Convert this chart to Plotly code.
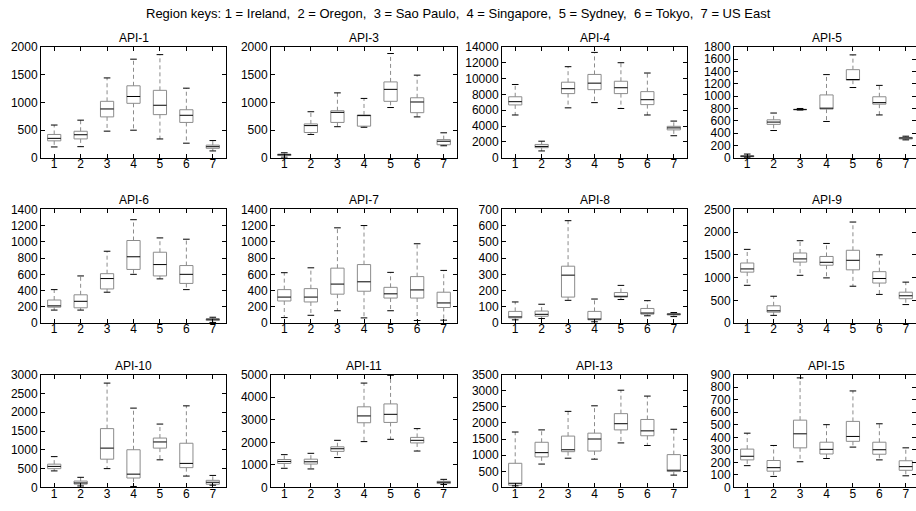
import plotly.graph_objects as go

# ---------------- data ----------------
region_keys = ["1", "2", "3", "4", "5", "6", "7"]
positions = [1, 2, 3, 4, 5, 6, 7]
suptitle = ("Region keys: 1 = Ireland,\u00a0 2 = Oregon,\u00a0 3 = Sao Paulo,\u00a0 "
            "4 = Singapore,\u00a0 5 = Sydney,\u00a0 6 = Tokyo,\u00a0 7 = US East")

titles = ["API-1", "API-3", "API-4", "API-5",
          "API-6", "API-7", "API-8", "API-9",
          "API-10", "API-11", "API-13", "API-15"]
y_max = [2000, 2000, 14000, 1800, 1400, 1400, 700, 2500, 3000, 5000, 3500, 900]
y_step = [500, 500, 2000, 200, 200, 200, 100, 500, 500, 1000, 500, 100]

# each API: lower whisker, Q1, median, Q3, upper whisker (per region 1..7)
api1_low = [195, 200, 480, 497, 339, 263, 123]
api1_q1 = [305, 340, 737, 982, 778, 637, 170]
api1_med = [350, 415, 880, 1105, 947, 766, 199]
api1_q3 = [420, 478, 1018, 1298, 1216, 866, 228]
api1_high = [590, 678, 1440, 1778, 1860, 1255, 310]

api3_low = [10, 420, 560, 550, 906, 737, 216]
api3_q1 = [40, 455, 637, 570, 1018, 813, 234]
api3_med = [55, 580, 819, 760, 1234, 1006, 298]
api3_q3 = [65, 610, 848, 772, 1368, 1082, 327]
api3_high = [90, 830, 1170, 1070, 1880, 1490, 450]

api4_low = [5400, 860, 6300, 6960, 6220, 5400, 2780]
api4_q1 = [6670, 1270, 8100, 8600, 8100, 6710, 3520]
api4_med = [7080, 1430, 8720, 9420, 8840, 7330, 3770]
api4_q3 = [7700, 1680, 9540, 10520, 9660, 8350, 3970]
api4_high = [9250, 2090, 11500, 13300, 12000, 10700, 4630]

api5_low = [5, 442, 775, 589, 1140, 695, 290]
api5_q1 = [15, 542, 780, 790, 1260, 870, 305]
api5_med = [25, 579, 785, 805, 1270, 895, 320]
api5_q3 = [35, 616, 792, 1020, 1430, 990, 330]
api5_high = [60, 726, 800, 1350, 1670, 1175, 350]

api6_low = [160, 160, 380, 600, 544, 412, 8]
api6_q1 = [196, 188, 420, 660, 580, 488, 32]
api6_med = [212, 268, 548, 816, 720, 600, 48]
api6_q3 = [284, 348, 608, 1016, 872, 708, 52]
api6_high = [412, 580, 884, 1272, 1048, 1032, 72]

api7_low = [68, 96, 152, 64, 152, 32, 36]
api7_q1 = [272, 260, 356, 392, 308, 308, 192]
api7_med = [320, 320, 480, 508, 360, 408, 248]
api7_q3 = [412, 424, 676, 720, 440, 572, 380]
api7_high = [620, 680, 1172, 1200, 624, 976, 648]

api8_low = [20, 28, 140, 8, 145, 45, 40]
api8_q1 = [32, 42, 160, 20, 160, 55, 50]
api8_med = [38, 54, 295, 25, 165, 62, 55]
api8_q3 = [72, 74, 350, 72, 188, 90, 58]
api8_high = [130, 116, 630, 148, 232, 138, 65]

api9_low = [830, 170, 1050, 993, 810, 630, 407]
api9_q1 = [1120, 240, 1340, 1271, 1170, 880, 536]
api9_med = [1190, 270, 1410, 1336, 1380, 980, 600]
api9_q3 = [1320, 380, 1540, 1464, 1600, 1130, 679]
api9_high = [1620, 590, 1810, 1750, 2220, 1500, 900]

api10_low = [440, 40, 501, 26, 735, 303, 60]
api10_q1 = [500, 90, 752, 251, 1046, 527, 86]
api10_med = [560, 120, 1046, 354, 1210, 640, 138]
api10_q3 = [620, 170, 1565, 1003, 1314, 1176, 190]
api10_high = [820, 270, 2775, 2110, 1686, 2170, 320]

api11_low = [850, 821, 1326, 2032, 2133, 1614, 130]
api11_q1 = [1066, 1038, 1599, 2868, 2882, 1974, 173]
api11_med = [1153, 1138, 1715, 3170, 3242, 2089, 230]
api11_q3 = [1239, 1254, 1801, 3574, 3703, 2219, 274]
api11_high = [1455, 1513, 2089, 4626, 4971, 2608, 360]

api13_low = [50, 726, 908, 878, 1382, 1302, 383]
api13_q1 = [70, 948, 1110, 1130, 1786, 1604, 494]
api13_med = [130, 1080, 1170, 1503, 1978, 1756, 535]
api13_q3 = [750, 1402, 1594, 1685, 2290, 2109, 1019]
api13_high = [1720, 1786, 2361, 2533, 3017, 2835, 1806]

api15_low = [174, 88, 205, 231, 322, 220, 93]
api15_q1 = [220, 130, 316, 267, 368, 265, 137]
api15_med = [249, 158, 428, 304, 407, 301, 166]
api15_q3 = [306, 215, 537, 361, 527, 361, 213]
api15_high = [433, 335, 874, 501, 770, 508, 316]

stats = [
    (api1_low, api1_q1, api1_med, api1_q3, api1_high),
    (api3_low, api3_q1, api3_med, api3_q3, api3_high),
    (api4_low, api4_q1, api4_med, api4_q3, api4_high),
    (api5_low, api5_q1, api5_med, api5_q3, api5_high),
    (api6_low, api6_q1, api6_med, api6_q3, api6_high),
    (api7_low, api7_q1, api7_med, api7_q3, api7_high),
    (api8_low, api8_q1, api8_med, api8_q3, api8_high),
    (api9_low, api9_q1, api9_med, api9_q3, api9_high),
    (api10_low, api10_q1, api10_med, api10_q3, api10_high),
    (api11_low, api11_q1, api11_med, api11_q3, api11_high),
    (api13_low, api13_q1, api13_med, api13_q3, api13_high),
    (api15_low, api15_q1, api15_med, api15_q3, api15_high),
]

# ---------------- layout geometry ----------------
W, H = 916, 511
col_px = [(41, 226), (271, 457), (502, 687), (734, 919)]
row_px = [(41, 155), (208, 325), (378, 494)]
BOX_HALF = 0.25
CAP_HALF = 0.125
GRAY = "#8c8c8c"
FONT = "Liberation Sans, Arial, sans-serif"

fig = go.Figure()
layout = dict(
    width=W, height=H, margin=dict(l=0, r=0, t=0, b=0),
    paper_bgcolor="white", plot_bgcolor="white", showlegend=False,
    font=dict(family=FONT, size=12, color="black"),
)
annotations = [dict(text=suptitle, x=0.5, y=1 - 7 / H, xref="paper", yref="paper",
                    xanchor="center", yanchor="middle", showarrow=False,
                    font=dict(size=13, family=FONT, color="black"))]

extra_axis = 13
for i, (low, q1, med, q3, high) in enumerate(stats):
    r, c = divmod(i, 4)
    k = i + 1
    xa = "x" if k == 1 else f"x{k}"
    ya = "y" if k == 1 else f"y{k}"
    x0, x1 = col_px[c]
    y0, y1 = row_px[r]
    px_per_unit = (x1 - x0) / 7.0
    x1c = min(x1, W)
    clipped = x1c < x1
    xr_hi = 7.5 - (x1 - x1c) / px_per_unit

    wx, wy, bx, by, mx, my, cx, cy = [], [], [], [], [], [], [], []
    for p, lo, a, m, b, hi in zip(positions, low, q1, med, q3, high):
        wx += [p, p, None, p, p, None]
        wy += [b, hi, None, a, lo, None]
        bx += [p - BOX_HALF, p + BOX_HALF, p + BOX_HALF, p - BOX_HALF, p - BOX_HALF, None]
        by += [a, a, b, b, a, None]
        mx += [p - BOX_HALF, p + BOX_HALF, None]
        my += [m, m, None]
        cx += [p - CAP_HALF, p + CAP_HALF, None, p - CAP_HALF, p + CAP_HALF, None]
        cy += [hi, hi, None, lo, lo, None]

    common = dict(xaxis=xa, yaxis=ya, mode="lines", hoverinfo="skip", showlegend=False)
    fig.add_trace(go.Scatter(x=wx, y=wy, line=dict(color=GRAY, width=1, dash="4px,3px"), **common))
    fig.add_trace(go.Scatter(x=bx, y=by, line=dict(color=GRAY, width=1), **common))
    fig.add_trace(go.Scatter(x=mx, y=my, line=dict(color="black", width=1), **common))
    fig.add_trace(go.Scatter(x=cx, y=cy, line=dict(color="black", width=1), **common))

    xkey = "xaxis" if k == 1 else f"xaxis{k}"
    ykey = "yaxis" if k == 1 else f"yaxis{k}"
    layout[xkey] = dict(
        domain=[x0 / W, x1c / W], anchor=ya, range=[0.5, xr_hi],
        tickmode="array", tickvals=positions, ticktext=region_keys,
        ticks="inside", ticklen=4, tickcolor="black", showline=True, linecolor="black",
        linewidth=1, mirror="ticks", showgrid=False, zeroline=False,
        ticklabelstandoff=-5,
        tickfont=dict(size=12, family=FONT, color="black"),
    )
    yaxis_common = dict(
        range=[0, y_max[i]], tickmode="linear", tick0=0, dtick=y_step[i],
        ticks="inside", ticklen=4, tickcolor="black", showgrid=False, zeroline=False,
    )
    layout[ykey] = dict(
        domain=[1 - y1 / H, 1 - y0 / H], anchor=xa, tickformat="d",
        showline=True, linecolor="black", linewidth=1,
        mirror=False if clipped else "ticks",
        tickfont=dict(size=12, family=FONT, color="black"),
        **yaxis_common,
    )
    if clipped:
        # right-hand tick marks without a visible spine (spine falls outside the canvas)
        ek = extra_axis
        extra_axis += 1
        layout[f"yaxis{ek}"] = dict(
            overlaying=ya, side="right", anchor=xa, showline=False,
            showticklabels=False, **yaxis_common,
        )
        fig.add_trace(go.Scatter(x=[None], y=[None], xaxis=xa, yaxis=f"y{ek}",
                                 mode="lines", hoverinfo="skip", showlegend=False))
    annotations.append(dict(
        text=titles[i], xref=f"{xa} domain", yref=f"{ya} domain",
        x=(x1 - x0) / 2 / (x1c - x0), y=1, xanchor="center", yanchor="bottom",
        yshift=0, showarrow=False, font=dict(size=12, family=FONT, color="black"),
    ))

layout["annotations"] = annotations
fig.update_layout(**layout)
fig.write_html(
    "out.html",
    config={"displayModeBar": False},
    post_script="document.body.style.margin='0';document.body.style.overflow='hidden';",
)
